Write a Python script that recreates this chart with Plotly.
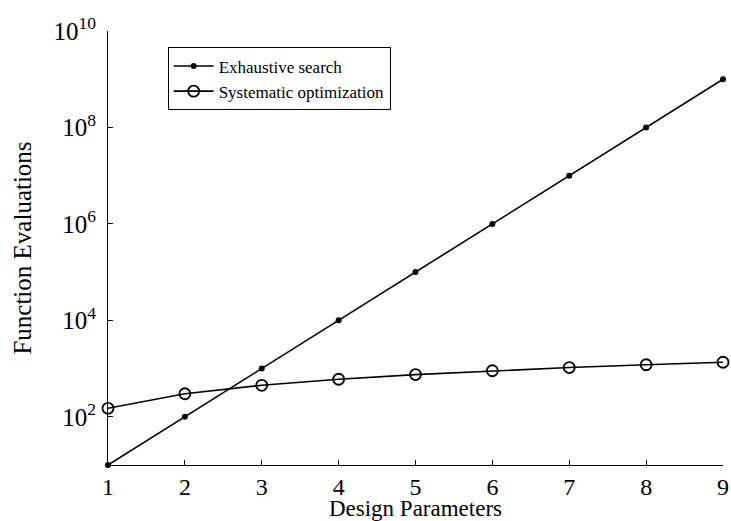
import plotly.graph_objects as go

design_params = [1, 2, 3, 4, 5, 6, 7, 8, 9]
exhaustive = [1e1, 1e2, 1e3, 1e4, 1e5, 1e6, 1e7, 1e8, 1e9]
systematic = [150, 300, 450, 600, 750, 900, 1050, 1200, 1350]

y_tick_vals = [1e2, 1e4, 1e6, 1e8, 1e10]
y_tick_text = ["10<sup>2</sup>", "10<sup>4</sup>", "10<sup>6</sup>", "10<sup>8</sup>", "10<sup>10</sup>"]

font_family = "Liberation Serif"

fig = go.Figure()

fig.add_trace(
    go.Scatter(
        x=design_params,
        y=exhaustive,
        mode="lines+markers",
        name="Exhaustive search",
        line=dict(color="black", width=1.6),
        marker=dict(symbol="circle", size=6, color="black"),
        cliponaxis=False,
    )
)

fig.add_trace(
    go.Scatter(
        x=design_params,
        y=systematic,
        mode="lines+markers",
        name="Systematic optimization",
        line=dict(color="black", width=1.6),
        marker=dict(
            symbol="circle-open", size=11, color="black", line=dict(width=1.8)
        ),
        cliponaxis=False,
    )
)

fig.update_layout(
    width=731,
    height=521,
    margin=dict(l=108, r=8, t=31, b=56),
    plot_bgcolor="white",
    paper_bgcolor="white",
    font=dict(family=font_family, size=24, color="black"),
    showlegend=True,
    legend=dict(
        x=0.097,
        y=0.962,
        xanchor="left",
        yanchor="top",
        bordercolor="black",
        borderwidth=1,
        bgcolor="white",
        font=dict(family=font_family, size=17, color="black"),
        tracegroupgap=0,
        itemwidth=40,
    ),
    xaxis=dict(
        range=[1, 9],
        tickvals=design_params,
        ticks="inside",
        ticklen=5,
        tickcolor="black",
        showline=True,
        linecolor="black",
        linewidth=1,
        showgrid=False,
        zeroline=False,
        automargin=False,
        tickfont=dict(size=24),
        title=dict(text="Design Parameters", font=dict(size=23), standoff=3),
    ),
    yaxis=dict(
        type="log",
        range=[1, 10],
        tickvals=y_tick_vals,
        ticktext=y_tick_text,
        ticks="inside",
        ticklen=5,
        tickcolor="black",
        showline=True,
        linecolor="black",
        linewidth=1,
        showgrid=False,
        zeroline=False,
        automargin=False,
        ticklabelstandoff=6,
        tickfont=dict(size=25),
        title=dict(text="Function Evaluations", font=dict(size=25), standoff=14),
    ),
)

fig.write_html(
    "out.html",
    config={"displayModeBar": False},
    post_script="document.body.style.margin='0';",
)
